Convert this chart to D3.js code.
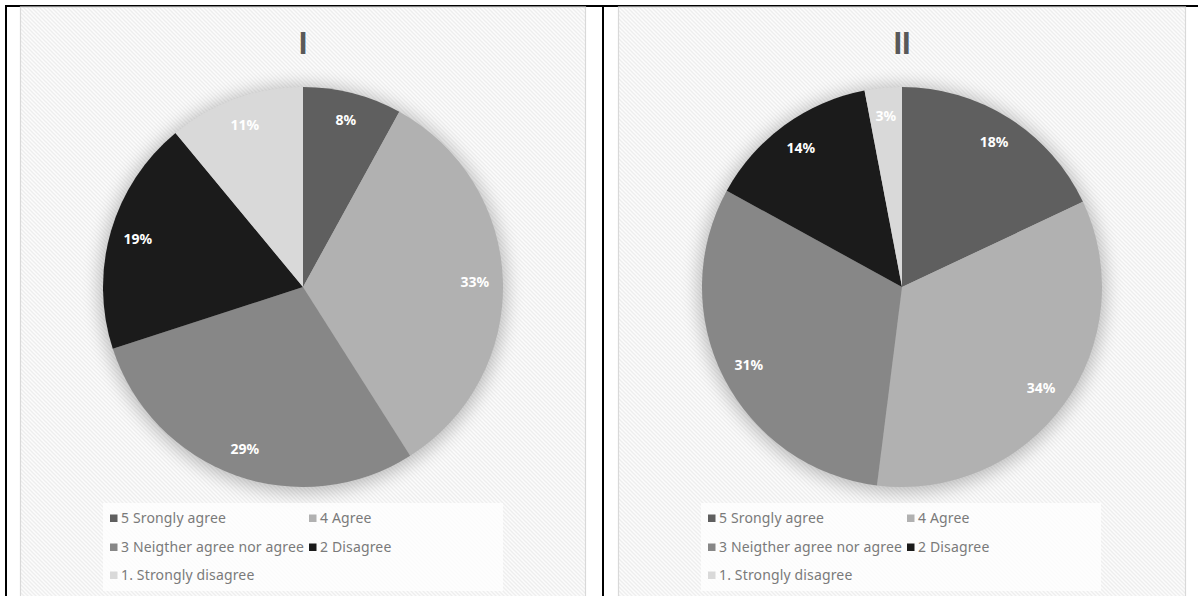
<!DOCTYPE html>
<html>
<head>
<meta charset="utf-8">
<script src="https://cdn.jsdelivr.net/npm/d3@7"></script>
<style>
  html, body { margin: 0; padding: 0; background: #fff; }
  svg { display: block; }
</style>
</head>
<body>
<svg id="chart" width="1198" height="596"></svg>
<script>
// Survey responses per group, in percent (clockwise from 12 o'clock)
const categories = [
  "5 Srongly agree",
  "4 Agree",
  "3 Neigther agree nor agree",
  "2 Disagree",
  "1. Strongly disagree"
];
const valuesI  = [8, 33, 29, 19, 11];
const valuesII = [18, 34, 31, 14, 3];
const panelTitles = ["I", "II"];
const sliceColors = ["#5f5f5f", "#b1b1b1", "#878787", "#1b1b1b", "#d9d9d9"];

const svg = d3.select("#chart");
const defs = svg.append("defs");

// Light diagonal hatch used for the chart area fill
const pat = defs.append("pattern")
  .attr("id", "hatch")
  .attr("patternUnits", "userSpaceOnUse")
  .attr("width", 4).attr("height", 4);
pat.append("rect").attr("width", 4).attr("height", 4).attr("fill", "#fcfcfc");
pat.append("path")
  .attr("d", "M-1,-1 L5,5 M-1,3 L1,5 M3,-1 L5,1")
  .attr("stroke", "#eeeeee").attr("stroke-width", 1.3);

// Soft halo behind each pie
const blur = defs.append("filter").attr("id", "halo")
  .attr("x", "-25%").attr("y", "-25%").attr("width", "150%").attr("height", "150%");
blur.append("feGaussianBlur").attr("stdDeviation", 9);

// Table-like frame
svg.append("rect").attr("x", 5).attr("y", 5).attr("width", 1193).attr("height", 2).attr("fill", "#000");
svg.append("rect").attr("x", 5).attr("y", 5).attr("width", 2).attr("height", 591).attr("fill", "#000");
svg.append("rect").attr("x", 602).attr("y", 5).attr("width", 2).attr("height", 591).attr("fill", "#000");

const panels = [
  { title: panelTitles[0], values: valuesI,  x0: 20,  x1: 586, cx: 303, legendX: 110 },
  { title: panelTitles[1], values: valuesII, x0: 618, x1: 1186, cx: 902, legendX: 708 }
];

const R = 200;
const cy = 287;
const pie = d3.pie().sort(null).value(d => d.value);
const arc = d3.arc().innerRadius(0).outerRadius(R);
const labelArc = d3.arc().innerRadius(172).outerRadius(172);
const color = d3.scaleOrdinal().domain(categories).range(sliceColors);

panels.forEach(p => {
  const g = svg.append("g");

  // chart area
  g.append("rect")
    .attr("x", p.x0 + 0.5).attr("y", 7)
    .attr("width", p.x1 - p.x0 - 1).attr("height", 600)
    .attr("fill", "url(#hatch)")
    .attr("stroke", "#d9d9d9").attr("stroke-width", 1.2);

  // title
  g.append("text")
    .attr("x", p.cx).attr("y", 53.5)
    .attr("text-anchor", "middle")
    .attr("font-family", "'Liberation Sans', Arial, sans-serif")
    .attr("font-weight", "bold")
    .attr("font-size", 31)
    .attr("fill", "#595959")
    .text(p.title);

  const data = categories.map((c, i) => ({ cat: c, value: p.values[i] }));
  const arcs = pie(data);

  const pg = g.append("g").attr("transform", `translate(${p.cx},${cy})`);

  pg.append("circle").attr("r", R + 3).attr("cy", 2)
    .attr("fill", "#000").attr("opacity", 0.25)
    .attr("filter", "url(#halo)");

  pg.selectAll("path.slice").data(arcs).enter().append("path")
    .attr("class", "slice")
    .attr("d", arc)
    .attr("fill", d => color(d.data.cat));

  pg.selectAll("text.lbl").data(arcs).enter().append("text")
    .attr("class", "lbl")
    .attr("transform", d => `translate(${labelArc.centroid(d)})`)
    .attr("text-anchor", "middle")
    .attr("dy", "0.36em")
    .attr("font-family", "'Noto Sans', sans-serif")
    .attr("font-weight", "bold")
    .attr("font-size", 14)
    .attr("fill", "#ffffff")
    .text(d => d.data.value + "%");

  // legend
  const lx = p.legendX;
  g.append("rect")
    .attr("x", lx - 7).attr("y", 503)
    .attr("width", 400).attr("height", 88)
    .attr("fill", "#ffffff").attr("opacity", 0.75);

  const colX = [0, 199];
  const rowY = [518, 547, 575];
  categories.forEach((c, i) => {
    const x = lx + colX[i % 2];
    const y = rowY[Math.floor(i / 2)];
    g.append("rect")
      .attr("x", x).attr("y", y - 3.5)
      .attr("width", 7.5).attr("height", 7.5)
      .attr("fill", color(c));
    g.append("text")
      .attr("x", x + 11).attr("y", y)
      .attr("dy", "0.36em")
      .attr("font-family", "'Noto Sans', sans-serif")
      .attr("font-size", 14)
      .attr("letter-spacing", 0.15)
      .attr("fill", "#7a7a7a")
      .text(c);
  });
});
</script>
</body>
</html>
